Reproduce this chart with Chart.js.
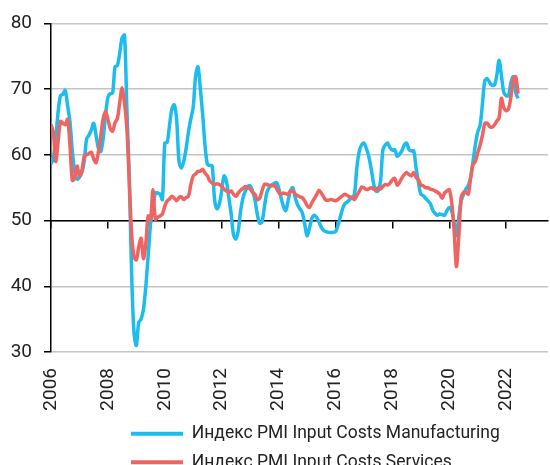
<!DOCTYPE html>
<html>
<head>
<meta charset="utf-8">
<script src="https://cdn.jsdelivr.net/npm/chart.js@4"></script>
<style>
  body { margin: 0; background: #fff; }
  #wrap { width: 550px; height: 465px; }
</style>
</head>
<body>
<div id="wrap"><canvas id="grafica" width="550" height="465"></canvas></div>
<script>
// monthly data, Jan 2006 .. Jun 2022
var startYear = 2006;
var yearTicks = [2006, 2008, 2010, 2012, 2014, 2016, 2018, 2020, 2022];
var valueTicks = [30, 40, 50, 60, 70, 80];
var seriesNames = ["Индекс PMI Input Costs Manufacturing", "Индекс PMI Input Costs Services"];

var manufacturing = [
  58.6, 59.5, 62.5, 66.5, 69.0, 69.2, 69.8, 67.5, 65.0, 60.5, 57.5, 56.3,
  56.6, 57.3, 59.0, 62.4, 63.0, 63.8, 64.8, 63.0, 61.0, 60.5, 62.5, 66.0,
  68.8, 69.3, 69.4, 73.4, 73.6, 75.5, 77.8, 78.2, 67.0, 57.0, 42.0, 33.0,
  31.0, 34.5, 35.0, 36.5, 40.0, 44.7, 49.5, 52.0, 54.2, 54.2, 54.0, 53.2,
  61.8, 61.9, 64.5, 67.0, 67.6, 65.3, 59.0, 58.0, 59.0, 61.0, 63.5, 65.5,
  67.3, 72.0, 73.4, 70.0, 66.0, 61.3, 58.5, 58.4, 58.3, 53.2, 51.8, 52.5,
  54.5, 56.8, 56.0, 53.5, 51.0, 47.8, 47.2, 48.5, 51.5, 53.5, 54.5, 55.2,
  55.3, 54.5, 53.2, 51.0, 49.6, 49.8, 52.0, 54.2, 55.0, 55.4, 55.6, 55.8,
  55.0, 53.5, 52.2, 51.5, 53.0, 54.5, 55.0, 53.5, 52.4, 51.8, 51.2, 49.5,
  47.7, 48.8, 50.3, 50.8, 50.5, 49.8, 49.0, 48.5, 48.3, 48.2, 48.2, 48.2,
  48.3, 49.2, 50.5, 51.8, 52.6, 52.8, 53.2, 53.5, 54.0, 58.0, 60.5, 61.5,
  61.8, 61.0, 59.8, 58.0, 55.8, 54.5, 54.5, 56.0, 60.8, 61.5, 61.8, 61.1,
  60.7, 60.8, 59.8, 60.1, 60.6, 61.5, 61.8, 60.8, 60.6, 60.6, 58.0, 55.8,
  54.0, 53.8, 53.4, 53.0, 52.6, 51.6, 51.1, 50.8, 51.0, 50.9, 50.8, 51.5,
  52.0, 51.5, 49.8, 47.7, 50.5, 53.0, 54.0, 54.8, 55.3, 56.5, 59.0, 61.5,
  63.5, 64.5, 67.8, 71.3, 71.6, 71.0, 70.6, 70.6, 72.0, 74.4, 72.0, 69.5,
  69.0, 69.0, 71.0, 71.9, 69.5, 68.6
];

var services = [
  64.6, 63.4, 59.0, 62.0, 65.1, 64.8, 64.6, 65.4, 61.5, 56.1, 56.5, 58.3,
  56.8, 57.5, 59.8, 60.0, 60.2, 60.4, 59.4, 58.8, 60.5, 62.9, 65.5, 66.6,
  65.4, 64.0, 63.6, 64.9, 65.5, 68.0, 70.2, 67.9, 64.0, 56.0, 48.0, 44.5,
  44.0, 46.0, 47.3, 44.2, 46.5, 50.7, 50.2, 54.7, 50.2, 50.5, 50.7, 51.0,
  52.2, 53.0, 53.3, 53.7, 53.4, 53.0, 53.5, 53.6, 53.2, 53.5, 53.7, 55.5,
  56.8, 57.1, 57.5, 57.5, 57.8, 57.2, 56.8, 56.0, 55.7, 55.5, 55.6, 55.5,
  55.2, 54.8, 54.5, 54.3, 54.5, 54.0, 53.7, 54.2, 54.6, 54.9, 55.2, 55.0,
  54.8, 54.3, 54.0, 53.2, 53.4, 54.5, 55.5, 55.5, 55.4, 55.3, 55.3, 55.0,
  54.3, 54.0, 54.2, 54.1, 54.0, 54.5, 54.5, 54.0, 53.8, 53.6, 53.5, 53.0,
  52.3, 52.0, 52.7, 53.3, 53.9, 54.6, 54.2, 53.6, 53.1, 53.1, 53.2, 53.1,
  53.0, 53.2, 53.5, 53.8, 54.0, 53.8, 53.6, 53.5, 53.2, 53.8, 54.4, 55.1,
  55.0, 54.7, 54.8, 55.0, 54.8, 54.7, 55.0, 54.8, 55.2, 55.5, 55.4, 55.7,
  56.2, 56.4, 55.4, 55.8, 56.5, 57.0, 57.3, 57.0, 56.8, 57.3, 56.6, 56.2,
  55.4, 55.3, 55.0, 55.0, 54.8, 54.7, 54.5, 54.3, 54.0, 53.4, 54.2, 54.5,
  54.7, 52.8, 48.7, 43.0, 47.5, 53.5, 54.3, 54.3, 54.0, 56.5, 58.5, 59.0,
  60.3, 61.5, 63.0, 64.8, 64.8, 64.3, 64.2, 64.5, 65.1, 65.6, 68.6, 67.2,
  66.7, 67.0, 68.8, 71.6, 71.9, 69.3
];

function toPoints(arr) {
  return arr.map(function (v, i) { return { x: startYear + i / 12, y: v }; });
}

var xMin = 2006, xMax = 2023.47;
var fuente = "Roboto, 'Open Sans', sans-serif";
var setYearTicks = function (axis) {
  axis.ticks = yearTicks.map(function (v) { return { value: v }; });
};

// both legend rows start at the same x, as in the original
var moverLeyenda = {
  id: "moverLeyenda",
  afterLayout: function (chart) {
    if (chart.legend) { chart.legend.left = 120; }
  }
};

var ctx = document.getElementById("grafica");
var grafica = new Chart(ctx, {
  type: "line",
  data: {
    datasets: [{
      label: seriesNames[0],
      data: toPoints(manufacturing),
      borderColor: "#1cbcee",
      backgroundColor: "#1cbcee",
      borderWidth: 3.5,
      pointRadius: 0,
      tension: 0.3,
      order: 1
    }, {
      label: seriesNames[1],
      data: toPoints(services),
      borderColor: "#ef6461",
      backgroundColor: "#ef6461",
      borderWidth: 3.5,
      pointRadius: 0,
      tension: 0.3,
      order: 0
    }]
  },
  options: {
    responsive: false,
    animation: false,
    layout: { padding: { left: 10, right: 2, top: 18, bottom: -16 } },
    plugins: {
      tooltip: { enabled: false },
      legend: {
        position: "bottom",
        align: "start",
        labels: {
          font: { family: fuente, size: 17.5 },
          color: "#222",
          boxWidth: 52,
          boxHeight: 4,
          padding: 11,
          sort: function (a, b) { return a.datasetIndex - b.datasetIndex; },
          generateLabels: function (chart) {
            var items = Chart.defaults.plugins.legend.labels.generateLabels(chart);
            items.forEach(function (it) { it.lineWidth = 0; it.fillStyle = it.strokeStyle; });
            return items;
          }
        }
      }
    },
    scales: {
      x: {
        type: "linear",
        min: xMin,
        max: xMax,
        position: { y: 50 },
        afterBuildTicks: setYearTicks,
        ticks: { display: false },
        grid: { drawOnChartArea: false, tickLength: 7, tickColor: "#000", lineWidth: 1.5 },
        border: { color: "#000", width: 1.5 }
      },
      x2: {
        type: "linear",
        min: xMin,
        max: xMax,
        position: "bottom",
        afterBuildTicks: setYearTicks,
        afterFit: function (axis) { axis.height = 62; },
        ticks: {
          minRotation: 90,
          maxRotation: 90,
          padding: 16,
          color: "#222",
          font: { family: fuente, size: 19 },
          callback: function (v) { return String(v); }
        },
        grid: { display: false, drawTicks: false, tickLength: 0 },
        border: { display: false }
      },
      y: {
        min: 30,
        max: 80,
        afterBuildTicks: function (axis) {
          axis.ticks = valueTicks.map(function (v) { return { value: v }; });
        },
        afterFit: function (axis) { axis.width = 41; },
        ticks: {
          padding: 12,
          color: "#222",
          font: { family: fuente, size: 19 },
          callback: function (v) { return String(v); }
        },
        grid: { color: "#c4c4c4", lineWidth: 1.5, tickLength: 7, tickColor: "#000" },
        border: { color: "#000", width: 1.5 }
      }
    }
  },
  plugins: [moverLeyenda]
});
</script>
</body>
</html>
